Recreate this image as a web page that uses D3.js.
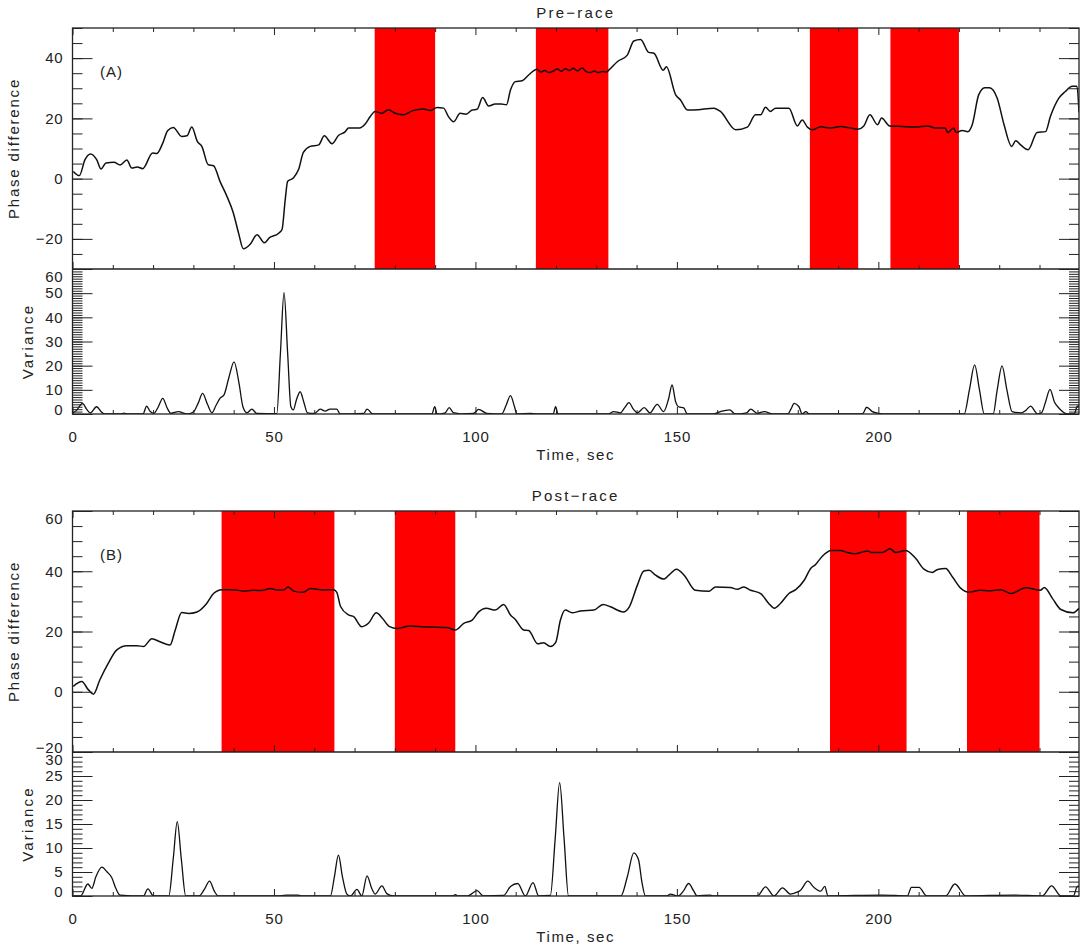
<!DOCTYPE html>
<html>
<head>
<meta charset="utf-8">
<title>Phase difference</title>
<style>
  body { margin: 0; background: #fff; }
  text { font-family: "Liberation Sans", Arial, sans-serif; fill: #222; }
</style>
</head>
<body>
<svg></svg>
<script src="https://d3js.org/d3.v7.min.js"></script>
<script>
// ---- data: [time (s), value] ----
var prePhase = [[0.2,2.4],[1.7,1.0],[3.1,6.3],[4.5,8.2],[6,6.3],[7.1,3.2],[8.3,5.2],[10.3,5.4],[11.8,4.5],[13.5,6.2],[14.7,3.5],[16.1,3.9],[17.4,3.3],[19.9,8.5],[20.9,8.3],[22.4,11.8],[23.6,15.9],[25,17],[27.1,14],[28.4,14.2],[29.6,17.1],[31,12.3],[32.1,10.7],[33.7,4.6],[35,4.3],[36.6,-0.9],[38.3,-5.8],[39.9,-11.3],[41.2,-18],[42.4,-23.3],[44.1,-21.8],[45.8,-18.6],[47.6,-21.3],[48.9,-19.6],[51.1,-18.2],[52,-16.9],[52.8,-6.9],[53.4,-0.9],[54.8,0.2],[56.1,3],[57.3,8.7],[59,10.7],[61.1,11.2],[62.5,14.2],[64.4,11.6],[66,14.3],[67.7,15.6],[68.5,16.8],[71.2,16.8],[72.7,18.2],[73.9,20.6],[75.1,22.3],[76.8,21.7],[78.4,22.9],[80.1,21.7],[82.2,21.2],[84.3,22.5],[87.1,23.1],[88.8,22.6],[90.5,23.6],[92.1,23.4],[93.3,20.6],[94.6,18.9],[96.2,21.7],[97.7,21.4],[99.2,22.8],[100.4,23],[101.8,26.9],[103.3,24.1],[104.9,24.8],[106.4,24.8],[107.7,24.5],[108.7,29.4],[109.9,32.2],[111.6,32.5],[113.2,34.4],[115.3,36.3],[116.2,35.4],[117.2,35.9],[118.2,35.2],[119.3,35.7],[120.3,36.4],[121.3,35.6],[122.3,36.5],[123.3,35.9],[124.3,36.6],[125.3,35.8],[126.5,36.7],[127.5,35.5],[128.5,35.2],[129.5,35.7],[130.5,35.2],[131.5,35.6],[132.5,35.4],[133.1,36],[135.2,38.8],[137.7,41],[139.3,45.7],[141,46.2],[143,41.9],[144.3,41.6],[146.6,36],[147.4,37.1],[149.7,27.8],[150.9,26.1],[152.6,22.8],[154.2,22.8],[159.2,23.4],[160.8,22.3],[164.6,16.2],[167.5,17.1],[169.5,21.2],[170.8,21.2],[172,23.7],[173.2,22.3],[174.5,23.4],[177.8,23.4],[179.9,17.5],[181.1,19.5],[182.4,17.1],[183.6,16.2],[185.7,17.2],[188.2,16.8],[190.6,17.3],[193.1,16.8],[194.9,16.4],[196.4,17.5],[197.9,21.2],[199.8,17.9],[200.8,20.1],[202.8,17.5],[205.8,17.3],[209.1,17.1],[212.3,17.5],[214.1,16.8],[216.6,16.8],[217.2,15.3],[218.7,16.8],[219.3,15.3],[220.8,16],[222.2,15.6],[223.3,17.9],[224.9,27.8],[226.4,30.2],[227.6,30.2],[229.5,26.7],[231.2,17.9],[233.1,10.7],[234.1,12.6],[235.3,11.2],[237.2,9.6],[239.4,15.3],[241.5,15.6],[242.7,20.6],[244.8,26.7],[246.4,28.9],[248.1,30.7],[249.3,30.7],[249.8,22]];

var preVar = [[0,0.3],[1,1.5],[2.5,4.4],[3.5,2],[4.4,0.5],[6,3],[7.2,0.8],[8,0],[12,0],[12.8,0.4],[13.6,0],[17.5,0],[18.4,3.3],[19.3,1],[20.2,0.3],[21.3,3],[22.4,6.5],[23.5,2.5],[24.4,0.3],[26.3,1],[28.4,0],[30,0.8],[31.2,4.5],[32.3,8.5],[33.5,4],[34.6,0.5],[35.6,3.5],[36.6,6.5],[37.6,7.9],[38.8,15],[40.1,21.6],[41.3,13],[42.3,3],[43.3,0.5],[44.5,2],[45.7,0.3],[50.7,0.1],[51.6,25],[52.5,50.2],[53.4,25],[54.2,3],[54.8,1.7],[55.6,6],[56.5,9.2],[57.4,5],[58.3,0.5],[60,0.2],[61.5,2],[62.7,1.2],[63.9,2],[65.6,2],[66.4,0],[72.3,0.3],[73.1,2],[74.6,0],[89.2,0],[89.9,3],[90.5,0],[92.5,0.5],[93.5,2.6],[94.5,0.6],[95.5,0.3],[96.5,0],[99.5,0.2],[100.8,1.9],[102.8,0.3],[106.5,0],[107.6,3.5],[108.7,7.6],[109.7,3],[110.3,0],[113.7,0.3],[115,0],[119.3,0],[119.9,3],[120.5,0],[133,0],[134.3,1],[136,0.5],[137,2.5],[138.1,4.7],[139.2,2],[140.2,0.5],[141.9,2.6],[143.3,0.5],[145.1,4],[146.7,1],[147.9,6],[148.8,12],[149.7,5],[150.4,3],[151.7,2.5],[152.6,0],[159,0],[160.8,1],[163.1,1.7],[164.5,0],[167.3,0.5],[168.3,2],[170,0.3],[171.7,1],[173.8,0],[177.5,0],[178.3,2],[179.1,4.4],[180.3,3],[181.1,0],[182,1],[182.8,0],[195.4,0],[196.2,0.3],[197.1,2.8],[198.5,1],[200,0.3],[202,0],[221.3,0],[222.6,10],[223.9,20.3],[225.1,10],[226.3,0],[228.5,0],[229.5,10],[230.7,19.9],[231.9,10],[233.2,1],[235.5,0.5],[236.6,1.5],[237.8,3.3],[239,0.8],[239.5,0],[240.5,0.5],[241.5,5],[242.6,10.2],[243.7,5],[244.9,2.3],[247,0],[248.6,0],[249.3,3],[249.8,3.5]];

var postPhase = [[0.2,1.8],[2.3,3.4],[3.9,0.7],[5.2,-0.8],[6.8,4],[8.9,9.5],[11,13.9],[13.5,15.3],[16,15.3],[17.6,15],[19.7,17.6],[21.7,16.6],[24.2,15.5],[25.5,20.5],[27.1,26.3],[28.8,26],[30.9,26.5],[33.3,29.3],[35,32.6],[37.1,33.9],[39.9,33.9],[42.4,33.4],[44.9,33.7],[47,33.6],[49.1,34.3],[50.7,33.8],[52.4,33.8],[53.5,34.8],[54.9,33.4],[57.3,33],[59,34.3],[62.3,33.8],[64.8,33.9],[65.6,33],[66.5,28.4],[68.5,25.5],[69.8,24.9],[71.8,21.6],[73.5,22.8],[75.4,26.2],[76.9,24.4],[78.7,21.6],[80.5,21],[83.8,21.8],[87.1,21.6],[92.9,21.3],[95,20.5],[97.1,22.7],[99.2,23.8],[100.8,26.5],[102.7,27.7],[104.9,27.1],[107,29],[108.7,25.5],[109.9,24],[112,20.5],[113.2,20.3],[115.5,15.9],[116.9,16.3],[118.6,15],[119.9,16.3],[121.1,23.8],[122.3,27.1],[124,26.2],[126.1,26.8],[129.4,27.1],[131.7,29],[133.5,28.2],[136.7,26.5],[138.2,28.2],[140.2,35.4],[141.8,40.1],[143.1,40.3],[144.7,38.7],[146.8,37.4],[148,38.7],[149.9,40.7],[151.8,38.7],[154.6,33.7],[158,33.4],[159.6,34.8],[163.3,34.6],[165,34],[166.6,34.8],[168.3,33.7],[170.8,32.6],[172.8,29.3],[174.2,27.7],[175.7,29.3],[177.8,32.6],[179.5,33.9],[181.6,37],[183.2,40.9],[184.4,42.2],[186.1,45],[188.3,46.9],[190.6,46.9],[192.3,46.2],[194.4,45.8],[195.6,46.2],[197.4,46.7],[198.4,46.2],[201,46.2],[202.9,47.5],[204.3,46.2],[206.8,46.9],[209.3,44.2],[211.3,40.7],[213.4,39.6],[214.7,40.6],[216.7,40.9],[218.4,38.1],[220.5,34.3],[222.5,33],[225.2,33.7],[227.5,33.5],[230.4,33.9],[232.9,32.6],[236.6,34.5],[240.2,33.7],[241.2,34.6],[243.2,31],[245.3,27.3],[248.3,26.2],[249.8,27.7]];

var postVar = [[0,0],[2,0],[3.8,2.5],[4.8,1.6],[5.8,4],[7.3,6],[8.6,5],[9.7,3.9],[10.8,1.5],[11.8,0.2],[17.6,0],[18.7,1.5],[20.1,0],[23.9,0],[25,7.75],[26,15.5],[27,7.75],[28.1,0],[31.4,0],[32.8,1.5],[34,3.1],[35.2,1],[36.2,0],[51,0],[53,0.2],[56,0.2],[57,0],[64,0],[65,4],[66,8.5],[67,4],[68.1,0.4],[69,0],[70.6,1.4],[71.8,0],[73.1,4.2],[74.3,1.5],[75.1,0.4],[76.8,2.1],[78,0.5],[79.7,0],[94.5,0],[95,0.3],[95.6,0],[98.1,0],[100.4,1.1],[102,0],[107,0.1],[108.7,2],[110.5,2.6],[112.4,0],[114.3,2.8],[115.7,0],[118.6,0.1],[119.8,12],[120.9,23.6],[122,12],[123.1,0],[136.1,0],[137.7,4],[139.3,9],[140.5,7.5],[141.3,3],[142.2,0],[147.5,0],[148.4,0.4],[150.3,0],[151.6,1],[152.9,2.6],[154.2,1],[155,0],[158.3,0.2],[159,0],[170,0],[172,1.9],[174.1,0],[176.2,1.7],[178.2,0.4],[180.1,0.9],[180.7,1.2],[182.5,3.1],[184,1.8],[185.7,1],[186.7,2],[187.5,0],[201,0.2],[207.2,0],[208.2,1.8],[210.1,1.8],[212,0],[216.7,0],[219,2.5],[221.7,0],[233.5,0.2],[240.7,0],[243,2.1],[245.3,0],[248.4,0],[249.3,1.9],[249.8,2.1]];

// highlighted time windows (s)
var preBands = [[75, 90], [115, 133], [183, 195], [203, 220]];
var postBands = [[37, 65], [80, 95], [188, 207], [222, 240]];

var titles = ['Pre\u2212race', 'Post\u2212race'];
var panelTags = ['(A)', '(B)'];
var timeTicks = [0, 50, 100, 150, 200];
var preVarTicks = [0, 10, 20, 30, 40, 50, 60];
var postVarTicks = [0, 5, 10, 15, 20, 25, 30];

// ---- layout ----
var width = 1084, height = 949,
    left = 72.5, right = 1079;

var svg = d3.select('svg').attr('width', width).attr('height', height);

var x = d3.scaleLinear().domain([0, 249.8]).range([left, right]);

var panels = [
    { top: 28, split: 269, bottom: 414, phaseDom: [-30, 50], phaseMajor: [-20, 0, 20, 40],
      varDom: [0, 60], varMajor: preVarTicks, phase: prePhase, vari: preVar, bands: preBands,
      title: titles[0], tag: panelTags[0] },
    { top: 511, split: 752, bottom: 896, phaseDom: [-20, 60], phaseMajor: [-20, 0, 20, 40, 60],
      varDom: [0, 30], varMajor: postVarTicks, phase: postPhase, vari: postVar, bands: postBands,
      title: titles[1], tag: panelTags[1] }
];

// tick labels sit inside the axis span, like the original plot package does
function styleAxis(g, labels, dom) {
    g.select('.domain').remove();
    g.selectAll('line').attr('stroke', '#222').attr('stroke-width', 1);
    g.attr('font-family', null).attr('font-size', null);
    var t = g.selectAll('text').attr('font-size', 15).attr('letter-spacing', 0.8)
        .style('display', labels ? null : 'none');
    if (dom) {
        t.attr('dy', function (d) {
            if (d === dom[1]) return '0.8em';
            if (d === dom[0]) return '0em';
            return '0.32em';
        });
    }
}

function range(a, b, s) { return d3.range(a, b + s / 2, s); }

panels.forEach(function (p, i) {
    var yP = d3.scaleLinear().domain(p.phaseDom).range([p.split, p.top]);
    var yV = d3.scaleLinear().domain(p.varDom).range([p.bottom, p.split]);
    var g = svg.append('g');

    var clipId = 'clip' + i;
    svg.append('clipPath').attr('id', clipId).append('rect')
        .attr('x', left).attr('y', p.top).attr('width', right - left).attr('height', p.bottom - p.top);

    // red windows
    g.selectAll('rect.band').data(p.bands).join('rect').attr('class', 'band')
        .attr('x', function (d) { return x(d[0]); })
        .attr('width', function (d) { return x(d[1]) - x(d[0]); })
        .attr('y', p.top).attr('height', p.split - p.top)
        .attr('fill', '#ff0000');

    // curves
    var lineP = d3.line().x(function (d) { return x(d[0]); }).y(function (d) { return yP(d[1]); })
        .curve(d3.curveMonotoneX);
    var lineV = d3.line().x(function (d) { return x(d[0]); }).y(function (d) { return yV(d[1]); })
        .curve(d3.curveMonotoneX);
    g.append('path').attr('d', lineP(p.phase)).attr('clip-path', 'url(#' + clipId + ')')
        .attr('fill', 'none').attr('stroke', '#111').attr('stroke-width', 1.5);
    g.append('path').attr('d', lineV(p.vari)).attr('clip-path', 'url(#' + clipId + ')')
        .attr('fill', 'none').attr('stroke', '#111').attr('stroke-width', 1.3);

    // frame
    g.append('rect').attr('x', left).attr('y', p.top).attr('width', right - left)
        .attr('height', p.bottom - p.top).attr('fill', 'none').attr('stroke', '#222').attr('stroke-width', 1.3);
    g.append('line').attr('x1', left).attr('x2', right).attr('y1', p.split).attr('y2', p.split)
        .attr('stroke', '#222').attr('stroke-width', 1.3);

    // x ticks: top edge, split line, bottom edge
    var xMinor = range(0, 240, 10).filter(function (v) { return v % 50; });
    [[p.top, d3.axisTop], [p.split, d3.axisBottom], [p.bottom, d3.axisBottom]].forEach(function (e, k) {
        g.append('g').attr('transform', 'translate(0,' + e[0] + ')')
            .call(e[1](x).tickValues(xMinor).tickSizeInner(-4).tickSizeOuter(0))
            .call(styleAxis, false);
        g.append('g').attr('transform', 'translate(0,' + e[0] + ')')
            .call(e[1](x).tickValues(timeTicks).tickSizeInner(-7).tickSizeOuter(0).tickPadding(17))
            .call(styleAxis, k === 2);
    });

    // y ticks, left (labelled) and right
    var pMinor = range(p.phaseDom[0], p.phaseDom[1], 5);
    var vMinor = range(0, p.varDom[1], 1);
    [[left, d3.axisLeft, true], [right, d3.axisRight, false]].forEach(function (e) {
        g.append('g').attr('transform', 'translate(' + e[0] + ',0)')
            .call(e[1](yP).tickValues(pMinor).tickSizeInner(-10).tickSizeOuter(0))
            .call(styleAxis, false);
        g.append('g').attr('transform', 'translate(' + e[0] + ',0)')
            .call(e[1](yP).tickValues(p.phaseMajor).tickSizeInner(-20).tickSizeOuter(0).tickPadding(9))
            .call(styleAxis, e[2], p.phaseDom);
        g.append('g').attr('transform', 'translate(' + e[0] + ',0)')
            .call(e[1](yV).tickValues(vMinor).tickSizeInner(-10).tickSizeOuter(0))
            .call(styleAxis, false);
        g.append('g').attr('transform', 'translate(' + e[0] + ',0)')
            .call(e[1](yV).tickValues(p.varMajor).tickSizeInner(-20).tickSizeOuter(0).tickPadding(9))
            .call(styleAxis, e[2], p.varDom);
    });

    // texts
    var cx = (left + right) / 2;
    g.append('text').attr('x', cx).attr('y', p.top - 10).attr('text-anchor', 'middle')
        .attr('font-size', 15).attr('letter-spacing', 2.2).text(p.title);
    g.append('text').attr('x', cx).attr('y', p.bottom + 46).attr('text-anchor', 'middle')
        .attr('font-size', 15).attr('letter-spacing', 1.6).text('Time, sec');
    g.append('text').attr('x', 100).attr('y', p.top + 49)
        .attr('font-size', 15).attr('letter-spacing', 1).text(p.tag);
    g.append('text').attr('transform', 'translate(18.5,' + (p.top + p.split) / 2 + ') rotate(-90)')
        .attr('text-anchor', 'middle').attr('font-size', 15).attr('letter-spacing', 1.8)
        .text('Phase difference');
    g.append('text').attr('transform', 'translate(33,' + (p.split + p.bottom) / 2 + ') rotate(-90)')
        .attr('text-anchor', 'middle').attr('font-size', 15).attr('letter-spacing', 2.2)
        .text('Variance');
});
</script>
</body>
</html>
